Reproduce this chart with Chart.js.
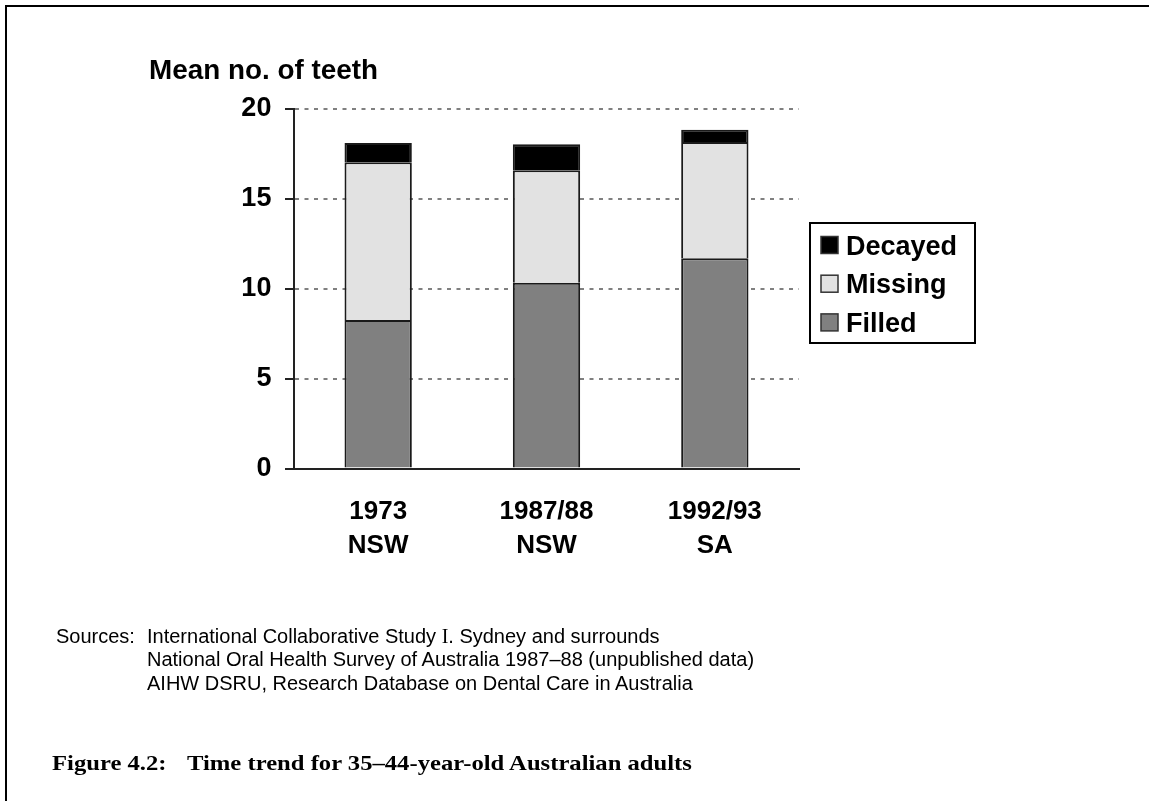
<!DOCTYPE html>
<html><head><meta charset="utf-8">
<script src="https://cdn.jsdelivr.net/npm/chart.js@4.4.0/dist/chart.umd.min.js"></script>
<style>
html,body{margin:0;padding:0;background:#fff;width:1149px;height:801px;overflow:hidden;}
#frame{position:absolute;left:5px;top:5px;width:1144px;height:796px;border-left:2px solid #000;border-top:2px solid #000;box-sizing:border-box;}
#wrap{position:absolute;left:0;top:0;width:1149px;height:801px;}
.t{position:absolute;white-space:nowrap;color:#000;line-height:1;transform-origin:0 0;}
.sans{font-family:'Liberation Sans',Arial,Helvetica,sans-serif;}
.serif{font-family:'Liberation Serif','Times New Roman',serif;}
</style></head><body>
<div id="frame"></div>
<div id="wrap"><canvas id="c" width="1149" height="801"></canvas></div>
<div class="t sans" id="ytitle" style="font-weight:bold;font-size:27px;left:149px;top:56.5px;">Mean no. of teeth</div>
<div class="t sans" id="s0" style="font-size:20px;left:56px;top:625.6px;">Sources:</div>
<div class="t sans" id="s1" style="font-size:20px;left:147px;top:625.6px;">International Collaborative Study <span class="serif">I</span>. Sydney and surrounds</div>
<div class="t sans" id="s2" style="font-size:20px;left:147px;top:649.1px;">National Oral Health Survey of Australia 1987–88 (unpublished data)</div>
<div class="t sans" id="s3" style="font-size:20px;left:147px;top:672.6px;">AIHW DSRU, Research Database on Dental Care in Australia</div>
<div class="t serif" id="c1" style="font-weight:bold;font-size:22px;left:52px;top:752.1px;">Figure 4.2:</div>
<div class="t serif" id="c2" style="font-weight:bold;font-size:22px;left:187px;top:752.1px;">Time trend for 35–44-year-old Australian adults</div>
<script>
const categories = [["1973","NSW"],["1987/88","NSW"],["1992/93","SA"]];
const seriesNames = ["Filled","Missing","Decayed"];
const filled  = [8.26, 10.34, 11.70];
const missing = [8.78, 6.25, 6.47];
const decayed = [1.07, 1.45, 0.68];
const yTicks = [0, 5, 10, 15, 20];
const seriesColors = ["#808080", "#e2e2e2", "#000000"];

const SANS = "'Liberation Sans', Arial, Helvetica, sans-serif";

const legendBox = {
  id: 'legendBox',
  afterDraw(chart) {
    const ctx = chart.ctx;
    const x0 = 810, y0 = 223, w = 165, h = 120;
    ctx.save();
    ctx.fillStyle = '#fff'; ctx.fillRect(x0, y0, w, h);
    ctx.lineWidth = 2; ctx.strokeStyle = '#000'; ctx.strokeRect(x0, y0, w, h);
    const ds = chart.data.datasets.slice().reverse();
    ctx.font = 'bold 27px ' + SANS;
    ds.forEach((d, i) => {
      const cy = 245 + i * 38.7;
      ctx.fillStyle = d.backgroundColor; ctx.fillRect(821, cy - 8.5, 17, 17);
      ctx.lineWidth = 1.5; ctx.strokeStyle = '#333'; ctx.strokeRect(821, cy - 8.5, 17, 17);
      ctx.fillStyle = '#000'; ctx.textBaseline = 'alphabetic'; ctx.textAlign = 'left';
      ctx.fillText(d.label, 846, cy + 9.6);
    });
    ctx.restore();
  }
};

const seriesData = [filled, missing, decayed];
new Chart(document.getElementById('c'), {
  type: 'bar',
  data: {
    labels: categories,
    datasets: seriesNames.map((n, i) => ({
      label: n, data: seriesData[i], backgroundColor: seriesColors[i],
      borderColor: '#1a1a1a', borderWidth: 2,
      categoryPercentage: 0.4, barPercentage: 1
    }))
  },
  options: {
    responsive: false, animation: false, devicePixelRatio: 1,
    layout: { padding: { left: 0, right: 350, top: 109, bottom: 232.5 } },
    plugins: { legend: { display: false }, tooltip: { enabled: false } },
    scales: {
      x: {
        stacked: true,
        grid: { display: false, drawTicks: false },
        border: { display: true, color: '#222', width: 2 },
        ticks: { color: '#000', font: { family: SANS, size: 26, weight: 'bold', lineHeight: 1.28 }, padding: 27, maxRotation: 0, autoSkip: false },
        afterFit(s) { s.height = 100; }
      },
      y: {
        stacked: true, min: yTicks[0], max: yTicks[yTicks.length - 1],
        afterBuildTicks(s) { s.ticks = yTicks.map(v => ({ value: v })); },
        ticks: { color: '#000', font: { family: SANS, size: 27, weight: 'bold' }, padding: 13.6 },
        grid: { color: '#808080', lineWidth: 2, tickLength: 9, tickColor: '#222', tickWidth: 2, tickBorderDash: [] },
        border: { color: '#222', width: 2, dash: [4, 5.5] },
        afterFit(s) { s.width = 294; }
      }
    }
  },
  plugins: [legendBox]
});

function fit(id, w) {
  const el = document.getElementById(id);
  const r = el.getBoundingClientRect().width;
  el.style.transform = 'scaleX(' + (w / r) + ')';
}
fit('ytitle', 229);
['c1','c2'].forEach(id => { document.getElementById(id).style.transform = 'scaleX(1.12)'; });
</script>
</body></html>
